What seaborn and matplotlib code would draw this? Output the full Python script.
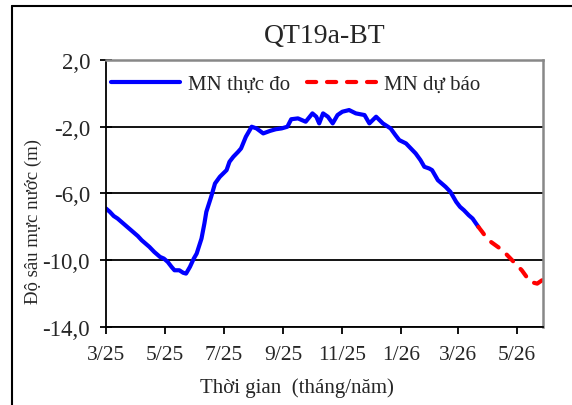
import matplotlib
matplotlib.use('Agg')
import pandas as pd
import seaborn as sns
from matplotlib import pyplot as plt
from matplotlib.lines import Line2D

# observed water level (MN thuc do)
obs_dates = [
    '2025-03-01', '2025-03-05', '2025-03-09', '2025-03-13', '2025-03-19',
    '2025-03-24', '2025-03-29', '2025-04-03', '2025-04-07', '2025-04-11',
    '2025-04-15', '2025-04-20', '2025-04-26', '2025-04-30', '2025-05-04',
    '2025-05-08', '2025-05-11', '2025-05-16', '2025-05-20', '2025-05-23',
    '2025-05-27', '2025-05-31', '2025-06-03', '2025-06-08', '2025-06-11',
    '2025-06-13', '2025-06-18', '2025-06-22', '2025-06-27', '2025-07-04',
    '2025-07-07', '2025-07-11', '2025-07-16', '2025-07-19', '2025-07-24',
    '2025-07-30', '2025-08-04', '2025-08-11', '2025-08-18', '2025-08-24',
    '2025-08-30', '2025-09-05', '2025-09-09', '2025-09-16', '2025-09-24',
    '2025-10-01', '2025-10-05', '2025-10-08', '2025-10-12', '2025-10-17',
    '2025-10-22', '2025-10-27', '2025-11-01', '2025-11-08', '2025-11-15',
    '2025-11-24', '2025-11-29', '2025-12-06', '2025-12-13', '2025-12-21',
    '2025-12-26', '2025-12-30', '2026-01-06', '2026-01-11', '2026-01-16',
    '2026-01-21', '2026-01-25', '2026-01-30', '2026-02-02', '2026-02-08',
    '2026-02-12', '2026-02-16', '2026-02-21', '2026-02-27', '2026-03-03',
    '2026-03-07', '2026-03-12', '2026-03-16', '2026-03-22',
]
obs_level = [
    -6.9, -7.1, -7.35, -7.5, -7.8,
    -8.05, -8.3, -8.55, -8.8, -9.0,
    -9.2, -9.5, -9.8, -9.9, -10.1,
    -10.4, -10.6, -10.6, -10.75, -10.8,
    -10.4, -9.9, -9.6, -8.7, -7.8,
    -7.1, -6.2, -5.4, -5.0, -4.6,
    -4.1, -3.8, -3.5, -3.3, -2.6,
    -2.0, -2.1, -2.4, -2.25, -2.15,
    -2.1, -2.0, -1.55, -1.5, -1.7,
    -1.2, -1.4, -1.8, -1.2, -1.4,
    -1.8, -1.3, -1.1, -1.0, -1.2,
    -1.3, -1.8, -1.4, -1.8, -2.1,
    -2.5, -2.8, -3.0, -3.3, -3.6,
    -4.0, -4.4, -4.5, -4.6, -5.2,
    -5.4, -5.6, -5.9, -6.5, -6.8,
    -7.0, -7.3, -7.5, -8.0,
]

# forecast water level (MN du bao)
fc_dates = [
    '2026-03-22', '2026-03-26', '2026-03-31', '2026-04-04', '2026-04-10',
    '2026-04-16', '2026-04-21', '2026-04-26', '2026-05-01', '2026-05-06',
    '2026-05-11', '2026-05-15', '2026-05-22', '2026-05-27',
]
fc_level = [
    -8.0, -8.3, -8.7, -8.9, -9.15,
    -9.4, -9.7, -10.0, -10.3, -10.6,
    -11.0, -11.3, -11.4, -11.2,
]

y_ticks = [2, -2, -6, -10, -14]
x_ticks = ['2025-03-01', '2025-05-01', '2025-07-01', '2025-09-01',
           '2025-11-01', '2026-01-01', '2026-03-01', '2026-05-01']
x_labels = ['3/25', '5/25', '7/25', '9/25', '11/25', '1/26', '3/26', '5/26']

sns.set_style('ticks')
plt.rcParams['font.family'] = ['Liberation Serif', 'DejaVu Serif']

fig = plt.figure(figsize=(5.72, 4.06), dpi=100)
ax = fig.add_axes([0.1853, 0.1921, 0.764, 0.6577])

obs = pd.DataFrame({'date': pd.to_datetime(obs_dates), 'level': obs_level})
fc = pd.DataFrame({'date': pd.to_datetime(fc_dates), 'level': fc_level})

sns.lineplot(data=obs, x='date', y='level', ax=ax, color='#0000ff', lw=3,
             label='MN thực đo')
sns.lineplot(data=fc, x='date', y='level', ax=ax, color='#ff0000', lw=3,
             linestyle=(0, (2.2, 2.6)), dash_capstyle='round',
             label='MN dự báo')

ax.set_ylim(-14, 2)
ax.set_xlim(pd.Timestamp('2025-03-01'), pd.Timestamp('2026-05-28'))
ax.set_yticks(y_ticks)
ax.set_yticklabels([f'{v:.1f}'.replace('.', ',') for v in y_ticks])
ax.set_xticks(pd.to_datetime(x_ticks))
ax.set_xticklabels(x_labels)

ax.yaxis.grid(True, color='black', lw=1.3)
ax.set_axisbelow(True)

for s in ['left', 'bottom']:
    ax.spines[s].set_color('black')
    ax.spines[s].set_linewidth(1.3)
for s in ['top', 'right']:
    ax.spines[s].set_color('#888888')
    ax.spines[s].set_linewidth(1.8)

ax.tick_params(axis='y', direction='inout', length=9, width=1.3,
               color='black', pad=7, labelsize=16.5)
ax.tick_params(axis='x', direction='out', length=5, width=1.3,
               color='black', pad=8, labelsize=15.5)

ax.set_title('QT19a-BT', fontsize=20, pad=13)
ax.set_xlabel('Thời gian  (tháng/năm)', fontsize=15)
ax.xaxis.set_label_coords(0.436, -0.225)
ax.xaxis.label.set_va('center')
ax.set_ylabel('Độ sâu mực nước (m)', fontsize=13.5)
ax.yaxis.set_label_coords(-0.167, 0.40)
ax.yaxis.label.set_va('center')

ax.legend(loc='center left', bbox_to_anchor=(0.012, 0.91), ncol=2,
          frameon=False, fontsize=15, handlelength=3.3,
          handletextpad=0.4, columnspacing=0.8, borderpad=0,
          borderaxespad=0)

# outer frame of the figure box
fig.add_artist(Line2D([12/572, 12/572], [0, 1 - 7/406],
                      transform=fig.transFigure, color='black', lw=1.5))
fig.add_artist(Line2D([12/572, 1], [1 - 7/406, 1 - 7/406],
                      transform=fig.transFigure, color='black', lw=1.5))

fig.savefig('out.png', dpi=100)
